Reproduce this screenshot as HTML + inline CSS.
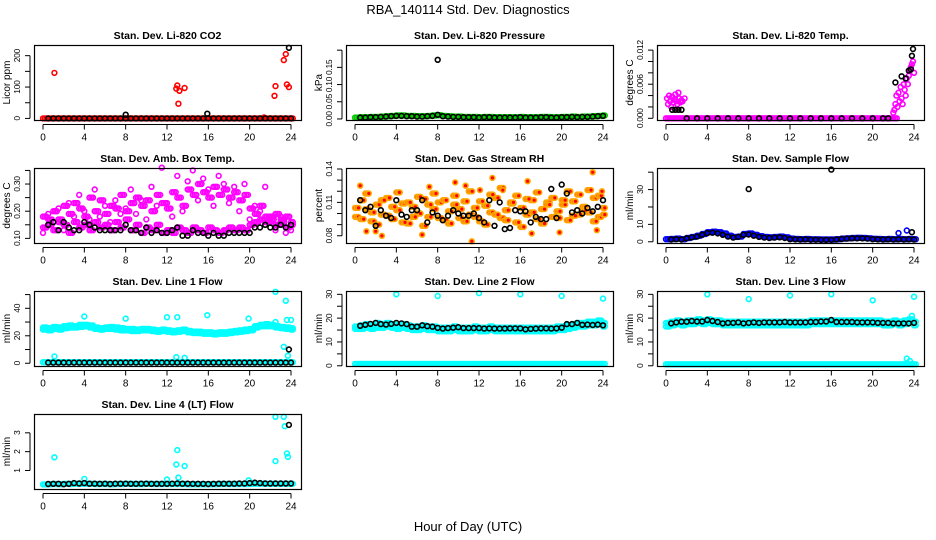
<!DOCTYPE html>
<html><head><meta charset="utf-8"><title>RBA_140114 Std. Dev. Diagnostics</title>
<style>
html,body{margin:0;padding:0;background:#fff;}
svg{display:block;font-family:"Liberation Sans",Arial,sans-serif;}
</style></head>
<body>
<svg id="chart" width="936" height="540" viewBox="0 0 936 540">
<rect x="0" y="0" width="936" height="540" fill="#fff"/>
<text x="468" y="14" text-anchor="middle" font-size="13">RBA_140114  Std. Dev. Diagnostics</text>
<text x="468" y="531" text-anchor="middle" font-size="13">Hour of Day (UTC)</text>
</svg>
<script>
// ---------- shared hours ----------
const hours = [0,0.5,1,1.5,2,2.5,3,3.5,4,4.5,5,5.5,6,6.5,7,7.5,8,8.5,9,9.5,10,10.5,11,11.5,12,12.5,13,13.5,14,14.5,15,15.5,16,16.5,17,17.5,18,18.5,19,19.5,20,20.5,21,21.5,22,22.5,23,23.5,24];
const xTicks = [0,4,8,12,16,20,24];

// ---------- Panel 1: CO2 ----------
const co2Red = [0,0,0,0,0,0,0,0,0,0,0,0,0,0,0,0,0,0,0,0,0,0,0,0,0,0,0,0,0,0,0,0,0,0,0,0,0,0,0,0,0,0,0,0,0,0,0,0,0];
const co2RedOutX = [1.1,12.9,13.0,13.1,13.2,13.7,21.4,22.4,22.5,23.3,23.5,23.6,23.8];
const co2RedOutY = [145,95,105,47,88,97,3,72,103,186,205,108,100];
const co2Black = [0,0,0,0,0,0,0,0,0,0,0,0,0,0,0,0,0,0,0,0,0,0,0,0,0,0,0,0,0,0,0,0,0,0,0,0,0,0,0,0,0,0,0,0,0,0,0,0,0];
const co2BlackOutX = [8.0,15.9,23.8];
const co2BlackOutY = [12,15,225];

// ---------- Panel 2: Pressure ----------
const presGreen = [0.004,0.005,0.005,0.006,0.006,0.007,0.008,0.009,0.010,0.010,0.009,0.009,0.008,0.008,0.009,0.010,0.011,0.009,0.008,0.007,0.007,0.006,0.006,0.006,0.005,0.006,0.006,0.005,0.005,0.005,0.005,0.005,0.006,0.005,0.005,0.005,0.006,0.006,0.005,0.005,0.006,0.006,0.007,0.006,0.007,0.007,0.008,0.009,0.010];
const presBlack = [0.003,0.004,0.004,0.005,0.005,0.006,0.007,0.008,0.009,0.009,0.008,0.008,0.007,0.007,0.008,0.009,0.012,0.008,0.007,0.006,0.006,0.005,0.005,0.005,0.004,0.005,0.005,0.004,0.004,0.004,0.004,0.004,0.005,0.004,0.004,0.004,0.005,0.005,0.004,0.004,0.005,0.005,0.006,0.005,0.006,0.006,0.007,0.008,0.009];
const presOutX = [8.0,16.0];
const presOutY = [0.172,0.222];

// ---------- Panel 3: Li-820 Temp ----------
const tempMagX = [0.1,0.2,0.3,0.4,0.5,0.6,0.7,0.8,0.9,1.0,1.1,1.2,1.3,1.4,1.5,1.6,1.8,22.0,22.1,22.2,22.3,22.4,22.5,22.6,22.7,22.8,22.9,23.0,23.1,23.2,23.3,23.4,23.5,23.6,23.7,23.8,23.9,24.0];
const tempMagY = [0.0035,0.0025,0.0040,0.0030,0.0020,0.0038,0.0028,0.0033,0.0042,0.0030,0.0025,0.0045,0.0035,0.0028,0.0032,0.0030,0.0035,0.0010,0.0015,0.0025,0.0040,0.0020,0.0045,0.0030,0.0055,0.0035,0.0025,0.0060,0.0050,0.0040,0.0070,0.0060,0.0075,0.0085,0.0090,0.0095,0.0100,0.0080];
const tempMagZero = [0,0,0,0,0,0,0,0,0,0,0,0,0,0,0,0,0,0,0,0,0,0,0,0,0,0,0,0,0,0,0,0,0,0,0,0,0,0,0,0,0,0,0,0,0,0,0,0,0];
const tempBlackX = [0.6,0.9,1.2,1.5,2,3,4,5,6,7,8,9,10,11,12,13,14,15,16,17,18,19,20,21,21.5,22.2,22.8,23.2,23.5,23.7,23.8,23.9];
const tempBlackY = [0.0015,0.0015,0.0015,0.0015,0,0,0,0,0,0,0,0,0,0,0,0,0,0,0,0,0,0,0,0,0,0.0063,0.0074,0.0070,0.0084,0.0086,0.0110,0.0122];

// ---------- Panel 4: Amb Box Temp ----------
const ambMag1 = [0.14,0.17,0.13,0.16,0.15,0.12,0.16,0.14,0.15,0.13,0.16,0.14,0.15,0.13,0.16,0.14,0.17,0.13,0.15,0.12,0.14,0.13,0.15,0.12,0.13,0.12,0.14,0.13,0.12,0.14,0.13,0.12,0.14,0.13,0.12,0.13,0.14,0.13,0.14,0.13,0.15,0.16,0.17,0.16,0.18,0.15,0.17,0.14,0.16];
const ambMag2 = [0.18,0.15,0.20,0.17,0.22,0.19,0.23,0.21,0.18,0.25,0.20,0.24,0.19,0.22,0.21,0.26,0.20,0.23,0.25,0.22,0.24,0.20,0.26,0.23,0.21,0.27,0.25,0.22,0.28,0.26,0.30,0.27,0.25,0.29,0.26,0.28,0.25,0.27,0.24,0.26,0.21,0.19,0.22,0.18,0.17,0.19,0.16,0.18,0.15];
const ambMag3 = [0.12,0.19,0.16,0.21,0.13,0.23,0.18,0.26,0.20,0.17,0.28,0.18,0.22,0.16,0.24,0.19,0.21,0.28,0.19,0.24,0.17,0.29,0.22,0.36,0.23,0.18,0.33,0.20,0.31,0.35,0.24,0.32,0.28,0.22,0.33,0.30,0.23,0.29,0.20,0.30,0.17,0.22,0.20,0.29,0.16,0.13,0.18,0.12,0.13];
const ambBlack = [0.13,0.15,0.16,0.13,0.16,0.14,0.13,0.13,0.16,0.15,0.14,0.13,0.13,0.13,0.13,0.13,0.15,0.13,0.13,0.12,0.14,0.12,0.13,0.12,0.12,0.13,0.14,0.11,0.11,0.13,0.12,0.12,0.11,0.12,0.11,0.11,0.12,0.12,0.12,0.12,0.12,0.14,0.14,0.15,0.14,0.14,0.15,0.14,0.15];

// ---------- Panel 5: Gas Stream RH ----------
const rhOrange1 = [0.097,0.112,0.104,0.093,0.108,0.099,0.114,0.095,0.103,0.109,0.091,0.106,0.100,0.113,0.097,0.104,0.110,0.094,0.102,0.108,0.096,0.111,0.099,0.105,0.093,0.107,0.101,0.114,0.096,0.103,0.109,0.092,0.105,0.099,0.112,0.095,0.104,0.110,0.097,0.102,0.108,0.094,0.111,0.099,0.106,0.101,0.114,0.097,0.105];
const rhOrange2 = [0.105,0.095,0.118,0.101,0.090,0.112,0.098,0.106,0.119,0.092,0.110,0.097,0.115,0.089,0.108,0.118,0.096,0.112,0.091,0.116,0.104,0.093,0.120,0.097,0.111,0.090,0.117,0.099,0.123,0.094,0.110,0.116,0.088,0.113,0.101,0.119,0.091,0.108,0.114,0.096,0.112,0.120,0.098,0.117,0.103,0.121,0.093,0.116,0.099];
const rhOrangeOutX = [0.5,1.1,2.6,4.3,7.2,9.7,10.7,11.3,12.1,13.3,14.3,16.7,19.8,23.0,23.4,23.9,2.0,6.5,17.1];
const rhOrangeOutY = [0.125,0.084,0.080,0.119,0.124,0.128,0.125,0.075,0.121,0.132,0.121,0.129,0.083,0.137,0.085,0.120,0.084,0.081,0.082];
const rhBlack = [0.105,0.112,0.103,0.106,0.089,0.103,0.098,0.096,0.112,0.099,0.097,0.103,0.103,0.112,0.092,0.101,0.098,0.094,0.098,0.103,0.100,0.098,0.098,0.100,0.096,0.092,0.112,0.089,0.110,0.086,0.087,0.103,0.102,0.102,0.092,0.097,0.095,0.095,0.122,0.096,0.126,0.118,0.101,0.103,0.100,0.105,0.102,0.106,0.112];

// ---------- Panel 6: Sample Flow ----------
const sfBlue = [1.5,1.6,1.8,1.5,2.2,2.8,3.5,4.5,5.5,5.8,5.5,4.8,3.5,2.8,3.0,4.5,4.8,4.0,3.2,2.8,2.6,2.8,3.0,2.6,1.8,1.6,1.5,1.6,1.4,1.4,1.3,1.3,1.3,1.5,1.8,2.0,2.2,2.3,2.2,2.0,1.7,1.6,1.5,1.6,1.5,1.6,1.5,1.6,1.5];
const sfBlueOutX = [22.5,23.3];
const sfBlueOutY = [5.0,6.5];
const sfBlack = [1.2,1.3,1.5,1.3,2.0,2.5,3.0,4.0,5.0,5.2,4.8,4.0,3.0,2.4,2.8,4.0,4.2,3.5,2.8,2.4,2.2,2.4,2.6,2.2,1.5,1.4,1.3,1.4,1.2,1.2,1.1,1.1,1.1,1.3,1.6,1.8,2.0,2.0,2.0,1.8,1.5,1.4,1.3,1.4,1.3,1.4,1.3,1.4,1.3];
const sfBlackOutX = [8.0,16.0,23.8];
const sfBlackOutY = [30.3,41.5,5.5];

// ---------- Panel 7: Line 1 Flow ----------
const l1Cyan1 = [26,25.5,26.5,26,27,27.5,27,28,28,27.5,26,25.5,26,26.5,26,25.5,25,25,24.5,25,25,24.5,24,24.5,24,23.5,24,24.5,23.5,23,23,22.5,22.5,22,22.5,22.5,23,23.5,24,24.5,25,27,28,28.5,28,27,26.5,26,25.5];
const l1Cyan2 = [24.5,24,25,24.5,25.5,26,26,26.5,27,26,25,24.5,25,25,24.5,24,24,23.5,23.5,24,24,23.5,23,23.5,23,22.5,23,23.5,22.5,22,22,21.5,21.5,21,21.5,21.5,22,22.5,23,23.5,24,26,27,27,27,26,25.5,25,24.5];
const l1CyanLow = [0.8,0.8,0.8,0.8,0.8,0.8,0.8,0.8,0.8,0.8,0.8,0.8,0.8,0.8,0.8,0.8,0.8,0.8,0.8,0.8,0.8,0.8,0.8,0.8,0.8,0.8,0.8,0.8,0.8,0.8,0.8,0.8,0.8,0.8,0.8,0.8,0.8,0.8,0.8,0.8,0.8,0.8,0.8,0.8,0.8,0.8,0.8,0.8,0.8];
const l1OutX = [1.1,4.0,8.0,12.0,12.9,13.0,13.7,15.9,19.9,22.5,22.5,23.3,23.5,23.6,23.7,24.0];
const l1OutY = [5,34,32.5,33.5,4.5,33.5,4,35,32.5,52,30,12,45.5,31.5,5.5,31.5];
const l1Black = [0.5,0.5,0.5,0.5,0.5,0.5,0.5,0.5,0.5,0.5,0.5,0.5,0.5,0.5,0.5,0.5,0.5,0.5,0.5,0.5,0.5,0.5,0.5,0.5,0.5,0.5,0.5,0.5,0.5,0.5,0.5,0.5,0.5,0.5,0.5,0.5,0.5,0.5,0.5,0.5,0.5,0.5,0.5,0.5,0.5,0.5,0.5,0.5,0.5];
const l1BlackOutX = [23.8];
const l1BlackOutY = [10];

// ---------- Panel 8: Line 2 Flow ----------
const l2Cyan1 = [16.5,17,17.5,17,18,17.5,18,17.5,17,17.5,17,16.5,16.5,17,16.5,16.5,16,16,16,16.5,16,16,16,16.5,16,16,16.5,16,16,16,16,16,16,16,16,16,16,16,16,16.5,16.5,17,17.5,18,18,18.5,18.5,19,18];
const l2Cyan2 = [15.5,15.5,16,15.5,16,16,16.5,16,15.5,16,15.5,15,15,15.5,15,15,14.5,14.5,14.5,15,14.5,14.5,14.5,15,14.5,14.5,15,14.5,14.5,14.5,14.5,14.5,14.5,14.5,14.5,14.5,14.5,14.5,14.5,15,15,15.5,16,16.5,16.5,17,17,17.5,16.5];
const l2CyanLow = [0.8,0.8,0.8,0.8,0.8,0.8,0.8,0.8,0.8,0.8,0.8,0.8,0.8,0.8,0.8,0.8,0.8,0.8,0.8,0.8,0.8,0.8,0.8,0.8,0.8,0.8,0.8,0.8,0.8,0.8,0.8,0.8,0.8,0.8,0.8,0.8,0.8,0.8,0.8,0.8,0.8,0.8,0.8,0.8,0.8,0.8,0.8,0.8,0.8];
const l2OutX = [4,8,12,16,20,24];
const l2OutY = [30,29.3,30.5,30,29.3,28.2];
const l2Black = [16.5,16.8,17.2,17.6,18,17.5,17.3,17.6,18,17.8,17.5,16.4,16.4,17,16.6,16.4,15.9,15.6,15.8,16,16.2,15.8,15.8,15.8,15.8,15.6,15.7,15.6,15.6,15.6,15.7,15.7,15.7,15.3,15.5,15.6,15.7,15.7,15.6,15.7,16,17.5,17.5,18,17.2,17.3,17.1,17.3,17];

// ---------- Panel 9: Line 3 Flow ----------
const l3Cyan1 = [18,18.5,19,18.5,19,19,19.5,19,19.5,19,19,18.5,18.5,18.5,18.5,18.5,18.5,18.5,18.5,18.5,18.5,18.5,18.5,18.5,18.5,18.5,18.5,18.5,19,19,19,19,19,19,19,19,19,19,19,19,19,19,18.5,18.5,19,18.5,19,19.5,18.5];
const l3Cyan2 = [16.5,17,17.5,17,17.5,17.5,18,17.5,18,17.5,17.5,17,17,17,17,17,17,17,17,17,17,17,17,17,17,17,17,17,17.5,17.5,17.5,17.5,17.5,17.5,17.5,17.5,17.5,17.5,17.5,17.5,17.5,17.5,17,17,17.5,17,17.5,18,17];
const l3CyanLow = [0.6,0.6,0.6,0.6,0.6,0.6,0.6,0.6,0.6,0.6,0.6,0.6,0.6,0.6,0.6,0.6,0.6,0.6,0.6,0.6,0.6,0.6,0.6,0.6,0.6,0.6,0.6,0.6,0.6,0.6,0.6,0.6,0.6,0.6,0.6,0.6,0.6,0.6,0.6,0.6,0.6,0.6,0.6,0.6,0.6,0.6,0.6,0.6,0.6];
const l3OutX = [4,8,12,16,20,24,23.3,23.6,23.8];
const l3OutY = [30,28,29.5,30,27.5,29,3,2,21];
const l3Black = [17.5,17.8,18.2,18.5,18.5,18.8,18.6,18.6,19.2,18.8,18.4,17.8,18,18,18.2,17.8,18,18.2,18,18.2,18.2,18.2,18.2,18.4,18.2,18.2,18.2,18.2,18.4,18.4,18.6,18.6,19.2,18.4,18.4,18.4,18.4,18.2,18.2,18.2,18.2,18,18,18,17.8,17.8,17.8,17.8,18];

// ---------- Panel 10: Line 4 (LT) Flow ----------
const l4Cyan = [0.26,0.27,0.28,0.27,0.29,0.28,0.30,0.29,0.30,0.29,0.28,0.28,0.28,0.27,0.28,0.28,0.29,0.28,0.28,0.28,0.29,0.28,0.28,0.28,0.28,0.28,0.28,0.28,0.27,0.27,0.27,0.27,0.27,0.27,0.28,0.28,0.28,0.28,0.28,0.28,0.29,0.30,0.30,0.29,0.29,0.29,0.29,0.29,0.29];
const l4OutX = [1.1,4.0,12.0,12.9,13.0,13.1,13.7,19.9,22.5,22.5,23.3,23.4,23.6,23.7];
const l4OutY = [1.7,0.55,0.52,1.32,2.08,0.62,1.24,0.48,1.5,3.85,3.85,3.35,1.9,1.72];
const l4Black = [0.27,0.28,0.29,0.29,0.27,0.29,0.33,0.31,0.33,0.30,0.30,0.29,0.30,0.28,0.30,0.30,0.30,0.29,0.29,0.30,0.30,0.29,0.29,0.29,0.29,0.30,0.31,0.30,0.30,0.29,0.29,0.29,0.28,0.29,0.30,0.30,0.30,0.30,0.31,0.31,0.33,0.35,0.33,0.31,0.31,0.31,0.31,0.31,0.31];
const l4BlackOutX = [23.8];
const l4BlackOutY = [3.42];

// ---------- rendering ----------
const NS = 'http://www.w3.org/2000/svg';
const svg = document.getElementById('chart');
function mk(tag, attrs, parent){
  const e = document.createElementNS(NS, tag);
  for (const k in attrs) e.setAttribute(k, attrs[k]);
  (parent||svg).appendChild(e);
  return e;
}
const colX = [34, 346, 657];
const rowY = [45, 168, 291, 414];
const BW = 267, BH = 75;
const MAG = '#ff00ff', RED = '#ff0000', GRN = '#00cc00', BLU = '#0000ff', CYN = '#00ffff', ORG = '#ffa500', BLK = '#000000';

const panels = [
 {name:'co2', title:'Stan. Dev. Li-820 CO2', ylab:'Licor ppm', col:0,row:0, ymin:-5, ymax:234, ticks:[0,50,100,150,200], labels:[0,100,200], fmt:v=>String(v),
  series:[[hours,co2Red,RED,1],[co2RedOutX,co2RedOutY,RED],[hours.slice(1),co2Black.slice(1),BLK],[co2BlackOutX,co2BlackOutY,BLK]]},
 {name:'pressure', title:'Stan. Dev. Li-820 Pressure', ylab:'kPa', col:1,row:0, ymin:-0.003, ymax:0.215, ticks:[0,0.05,0.10,0.15,0.20], labels:[0,0.05,0.10,0.15], fmt:v=>v.toFixed(2),
  series:[[hours,presGreen,GRN,1],[hours.slice(1),presBlack.slice(1),BLK],[presOutX,presOutY,BLK]]},
 {name:'li820-temp', title:'Stan. Dev. Li-820 Temp.', ylab:'degrees C', col:2,row:0, ymin:-0.0003, ymax:0.0129, ticks:[0,0.002,0.004,0.006,0.008,0.010,0.012], labels:[0,0.006,0.012], fmt:v=>v.toFixed(3),
  series:[[hours.slice(0,45),tempMagZero.slice(0,45),MAG,1],[tempMagX,tempMagY,MAG],[tempBlackX,tempBlackY,BLK]]},
 {name:'amb-box-temp', title:'Stan. Dev. Amb. Box Temp.', ylab:'degrees C', col:0,row:1, ymin:0.083, ymax:0.359, ticks:[0.10,0.15,0.20,0.25,0.30,0.35], labels:[0.10,0.20,0.30], fmt:v=>v.toFixed(2),
  series:[[hours,ambMag1,MAG,1],[hours,ambMag2,MAG,1],[hours,ambMag3,MAG],[hours.slice(1),ambBlack.slice(1),BLK]]},
 {name:'gas-stream-rh', title:'Stan. Dev. Gas Stream RH', ylab:'percent', col:1,row:1, ymin:0.0735, ymax:0.1409, ticks:[0.08,0.09,0.10,0.11,0.12,0.13,0.14], labels:[0.08,0.11,0.14], fmt:v=>v.toFixed(2),
  series:[[hours,rhOrange1,ORG,1],[hours,rhOrange2,ORG,1],[rhOrangeOutX,rhOrangeOutY,ORG],[hours.slice(1),rhBlack.slice(1),BLK]], inner:RED},
 {name:'sample-flow', title:'Stan. Dev. Sample Flow', ylab:'ml/min', col:2,row:1, ymin:-0.7, ymax:42.4, ticks:[0,10,20,30,40], labels:[0,10,30], fmt:v=>String(v),
  series:[[hours,sfBlue,BLU,1],[sfBlueOutX,sfBlueOutY,BLU],[hours.slice(1),sfBlack.slice(1),BLK],[sfBlackOutX,sfBlackOutY,BLK]]},
 {name:'line1-flow', title:'Stan. Dev. Line 1 Flow', ylab:'ml/min', col:0,row:2, ymin:-2, ymax:52.6, ticks:[0,10,20,30,40,50], labels:[0,20,40], fmt:v=>String(v),
  series:[[hours,l1Cyan1,CYN,1],[hours,l1Cyan2,CYN,1],[hours,l1CyanLow,CYN,1],[l1OutX,l1OutY,CYN],[hours.slice(1),l1Black.slice(1),BLK],[l1BlackOutX,l1BlackOutY,BLK]]},
 {name:'line2-flow', title:'Stan. Dev. Line 2 Flow', ylab:'ml/min', col:1,row:2, ymin:-0.1, ymax:31.4, ticks:[0,5,10,15,20,25,30], labels:[0,10,20,30], fmt:v=>String(v),
  series:[[hours,l2Cyan1,CYN,1],[hours,l2Cyan2,CYN,1],[hours,l2CyanLow,CYN,1],[l2OutX,l2OutY,CYN],[hours.slice(1),l2Black.slice(1),BLK]]},
 {name:'line3-flow', title:'Stan. Dev. Line 3 Flow', ylab:'ml/min', col:2,row:2, ymin:-0.1, ymax:31.4, ticks:[0,5,10,15,20,25,30], labels:[0,10,20,30], fmt:v=>String(v),
  series:[[hours,l3Cyan1,CYN,1],[hours,l3Cyan2,CYN,1],[hours,l3CyanLow,CYN,1],[l3OutX,l3OutY,CYN],[hours.slice(1),l3Black.slice(1),BLK]]},
 {name:'line4-flow', title:'Stan. Dev. Line 4 (LT) Flow', ylab:'ml/min', col:0,row:3, ymin:0.016, ymax:4.0, ticks:[1,2,3], labels:[1,2,3], fmt:v=>String(v),
  series:[[hours,l4Cyan,CYN,1],[l4OutX,l4OutY,CYN],[hours.slice(1),l4Black.slice(1),BLK],[l4BlackOutX,l4BlackOutY,BLK]]}
];

panels.forEach(p=>{
  const L = colX[p.col], T = rowY[p.row];
  const xs = h => L + 9 + h * (248/24);
  const ys = v => T + BH - (v - p.ymin) / (p.ymax - p.ymin) * BH;
  const g = mk('g', {});
  
  
  const t = mk('text', {x: L + BW/2, y: T - 6, 'text-anchor':'middle', 'font-size':'10.5', 'font-weight':'bold'}, g);
  t.textContent = p.title;
  
  
  const pts = mk('g', {}, g);
  
  
  p.series.forEach(s=>{
    const [sx, sy, c, dense] = s;
    const offs = dense ? [0, 0.17, 0.34] : [0];
    for (let i=0;i<sx.length;i++){
      const cy = ys(sy[i]);
      if (cy < T-1 || cy > T+BH+1) continue;
      offs.forEach(o=>{
        if (sx[i] + o > 24.2) return;
        const ci = mk('circle', {cx: xs(sx[i]+o).toFixed(1), cy: cy.toFixed(1), r: '2.4', fill: p.inner && c===ORG ? p.inner : 'none', stroke: c, 'stroke-width': '1.6'}, pts);
        
        
      });
    }
  });
  const box = mk('rect', {x: L+0.5, y: T+0.5, width: BW, height: BH, fill:'none', stroke:'#000', 'stroke-width':'1.2'}, g);
  
  
  const xa = mk('g', {}, g);
  
  
  const yb = T + BH + 0.5;
  mk('line', {x1: xs(xTicks[0]), x2: xs(xTicks[xTicks.length-1]), y1: yb+4, y2: yb+4, stroke:'#000'}, xa);
  xTicks.forEach(h=>{
    mk('line', {x1: xs(h), x2: xs(h), y1: yb+4, y2: yb+9, stroke:'#000'}, xa);
    const tl = mk('text', {x: xs(h), y: yb+20, 'text-anchor':'middle', 'font-size':'10'}, xa);
    tl.textContent = h;
    
    
  });
  const ya = mk('g', {}, g);
  
  
  const yt = p.ticks.filter(v=>ys(v) >= T-0.5 && ys(v) <= T+BH+0.5);
  const xl = L - 4;
  mk('line', {x1: xl, x2: xl, y1: ys(yt[0]), y2: ys(yt[yt.length-1]), stroke:'#000'}, ya);
  yt.forEach(v=>{
    mk('line', {x1: xl-5, x2: xl, y1: ys(v), y2: ys(v), stroke:'#000'}, ya);
  });
  p.labels.forEach(v=>{
    const yy = ys(v);
    const tl = mk('text', {x: 0, y: 0, 'text-anchor':'middle', 'font-size':'8.5', 'letter-spacing':'-0.3', transform:`translate(${xl-10},${yy}) rotate(-90)`}, ya);
    tl.textContent = p.fmt(v);
    
    
  });
  const yl = mk('text', {x:0, y:0, 'text-anchor':'middle', 'font-size':'10', transform:`translate(${L-24},${T+BH/2}) rotate(-90)`}, g);
  yl.textContent = p.ylab;
  
  
});
</script>
</body></html>
